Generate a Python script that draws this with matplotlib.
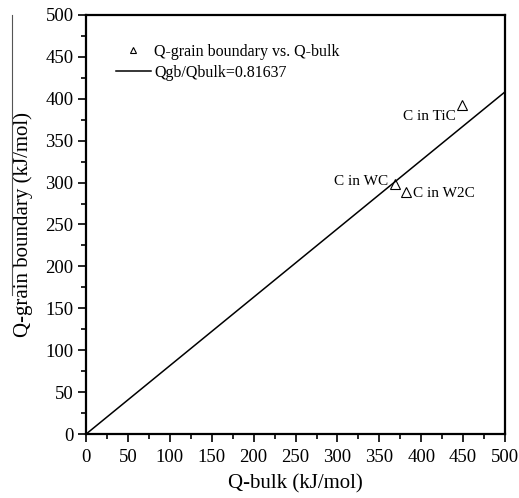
import matplotlib
matplotlib.use("Agg")
import matplotlib.pyplot as plt
from matplotlib.lines import Line2D
from matplotlib.ticker import MultipleLocator

plt.rcParams['font.family'] = ['Liberation Serif', 'DejaVu Serif']

labels = ["C in TiC", "C in WC", "C in W2C"]
q_bulk = [449, 369, 382]
q_gb = [392, 298, 289]
ratio = 0.81637
line_x = [0, 500]

fig = plt.figure(figsize=(5.19, 4.98), dpi=100)
ax = fig.add_axes([0.166, 0.1285, 0.807, 0.8415])

ax.plot(q_bulk, q_gb, linestyle='none', marker='^', markersize=7,
        markerfacecolor='white', markeredgecolor='black', markeredgewidth=0.8,
        label='Q-grain boundary vs. Q-bulk')
ax.plot(line_x, [ratio * v for v in line_x], color='black', lw=1.1,
        label='Qgb/Qbulk=0.81637')

ax.annotate(labels[0], (q_bulk[0], q_gb[0]), xytext=(-5, -8), textcoords='offset points',
            ha='right', va='center', fontsize=11)
ax.annotate(labels[1], (q_bulk[1], q_gb[1]), xytext=(-5, 2), textcoords='offset points',
            ha='right', va='center', fontsize=11)
ax.annotate(labels[2], (q_bulk[2], q_gb[2]), xytext=(5, -1), textcoords='offset points',
            ha='left', va='center', fontsize=11)

ax.set_xlim(0, 500)
ax.set_ylim(0, 500)
ax.xaxis.set_major_locator(MultipleLocator(50))
ax.yaxis.set_major_locator(MultipleLocator(50))
ax.xaxis.set_minor_locator(MultipleLocator(25))
ax.yaxis.set_minor_locator(MultipleLocator(25))
ax.tick_params(which='major', direction='out', length=6, width=1.2, labelsize=13.5, pad=3)
ax.tick_params(axis='x', which='major', pad=5)
ax.tick_params(which='minor', direction='out', length=3.5, width=1.2)
for s in ax.spines.values():
    s.set_linewidth(1.6)

ax.set_xlabel('Q-bulk (kJ/mol)', fontsize=15, labelpad=6)
ax.set_ylabel('Q-grain boundary (kJ/mol)', fontsize=15, labelpad=9)

ax.legend(loc='upper left', frameon=False, fontsize=11.5, bbox_to_anchor=(0.036, 0.965),
          handlelength=2.2, handletextpad=0.2, labelspacing=0.3, markerscale=0.65)

# thin vertical stroke present at the left edge of the source image
fig.add_artist(Line2D([12 / 519, 12 / 519], [1 - 15 / 498, 1 - 295 / 498],
                      transform=fig.transFigure, color='#555555', lw=0.8))

fig.savefig('out.png', dpi=100)
